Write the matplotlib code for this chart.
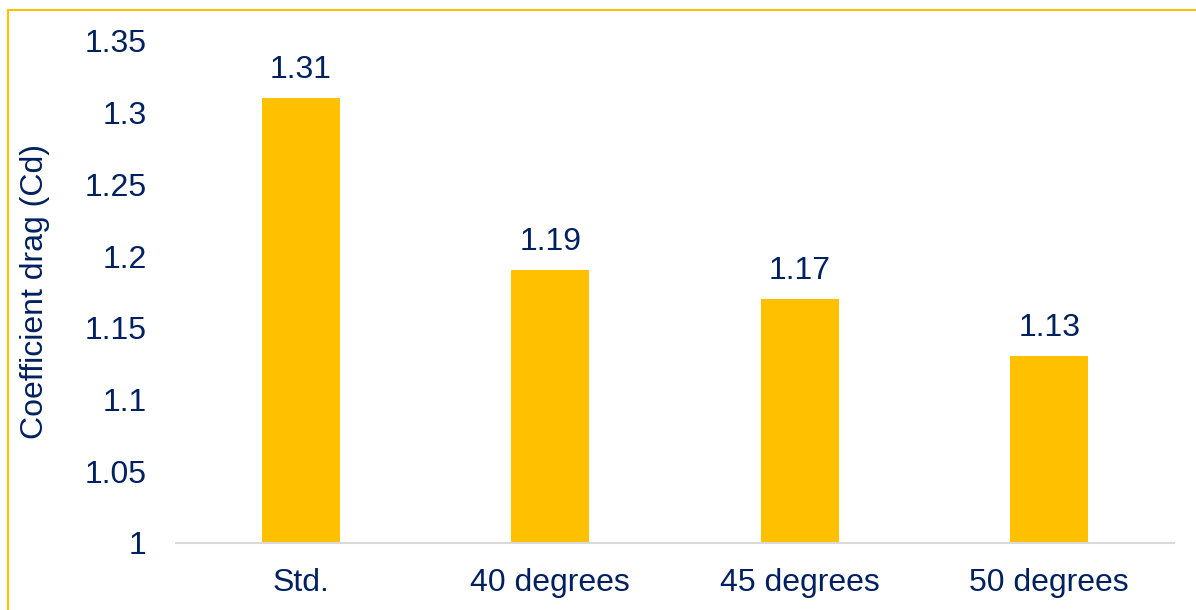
import matplotlib
matplotlib.use("Agg")
import matplotlib.pyplot as plt
from matplotlib.lines import Line2D

categories = ["Std.", "40 degrees", "45 degrees", "50 degrees"]
values = [1.31, 1.19, 1.17, 1.13]
value_labels = ["1.31", "1.19", "1.17", "1.13"]
yticks = [1.0, 1.05, 1.1, 1.15, 1.2, 1.25, 1.3, 1.35]
ytick_labels = ["1", "1.05", "1.1", "1.15", "1.2", "1.25", "1.3", "1.35"]
ylabel = "Coefficient drag (Cd)"

NAVY = "#002060"
GOLD = "#FFC000"
FS = 23

plt.rcParams["font.family"] = ["Liberation Sans", "DejaVu Sans"]

W, H = 1196, 610
fig = plt.figure(figsize=(W / 100, H / 100), dpi=100)
ax = fig.add_axes([176 / W, 1 - 542.7 / H, (1174 - 176) / W, (542.7 - 41) / H])

x = list(range(len(categories)))
bars = ax.bar(x, [v - 1.0 for v in values], bottom=1.0, width=0.312, color=GOLD, zorder=2)

ax.set_xlim(-0.5, len(categories) - 0.5)
ax.set_ylim(1.0, 1.35)
ax.set_yticks(yticks)
ax.set_yticklabels(ytick_labels)
ax.set_xticks(x)
ax.set_xticklabels(categories)
ax.tick_params(axis="both", length=0, labelsize=FS, labelcolor=NAVY)
ax.tick_params(axis="y", pad=21)
ax.tick_params(axis="x", pad=18)

for s in ["top", "right", "left"]:
    ax.spines[s].set_visible(False)
ax.spines["bottom"].set_color("#D9D9D9")
ax.spines["bottom"].set_linewidth(1.5)
ax.spines["bottom"].set_zorder(3)

for xi, v, lab in zip(x, values, value_labels):
    ax.annotate(lab, (xi, v), xytext=(0, 9.5), textcoords="offset points",
                ha="center", va="bottom", fontsize=FS, color=NAVY)

fig.text(35 / W, 1 - 291 / H, ylabel, rotation=90, ha="center", va="center",
         fontsize=FS, color=NAVY)

# outer border (left and top visible)
fig.add_artist(Line2D([7.5 / W, 7.5 / W], [0, 1 - 9.5 / H], transform=fig.transFigure,
                      color=GOLD, linewidth=1.5))
fig.add_artist(Line2D([7.5 / W, 1], [1 - 9.5 / H, 1 - 9.5 / H], transform=fig.transFigure,
                      color=GOLD, linewidth=1.5))

fig.savefig("out.png", dpi=100)
